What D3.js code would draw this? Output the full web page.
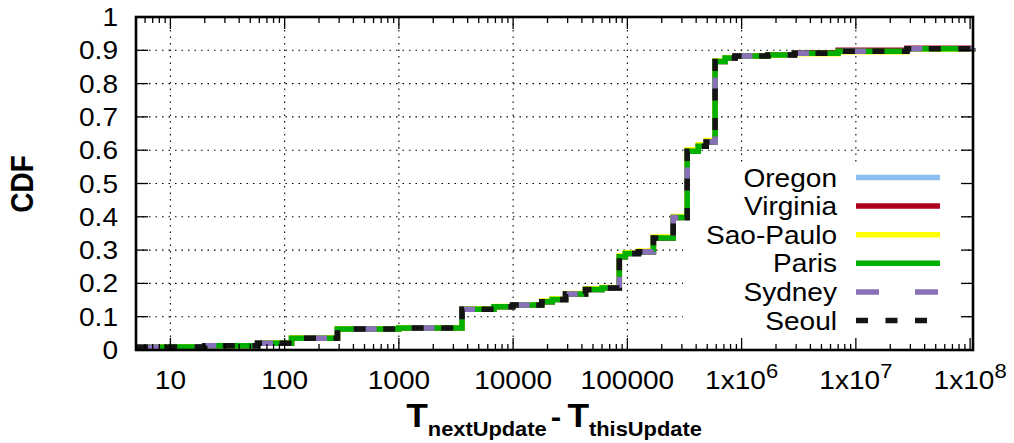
<!DOCTYPE html>
<html>
<head>
<meta charset="utf-8">
<script src="https://cdn.jsdelivr.net/npm/d3@7"></script>
<style>
  body { margin: 0; background: #fff; }
  text { font-family: "Liberation Sans", Arial, Helvetica, sans-serif; fill: #000; }
</style>
</head>
<body>
<svg id="chart" width="1014" height="443"></svg>
<script>
// x positions of the CDF steps (seconds)
const stepX = [5, 10, 20, 58, 115, 290, 1000, 3570, 6800, 9900, 17800, 22000, 28800, 43000, 60000,
  85000, 96000, 125000, 169000, 252000, 334000, 417000, 490000, 586000, 718000, 877000,
  1.7e6, 2.9e6, 7e6, 2.8e7, 1.06e8];

// CDF value after each step, one array per vantage point
const cdfOregon = [0.008, 0.009, 0.013, 0.02, 0.035, 0.063, 0.066, 0.122, 0.13, 0.135, 0.145, 0.152, 0.168, 0.182, 0.186,
  0.28, 0.29, 0.295, 0.336, 0.398, 0.597, 0.612, 0.625, 0.866, 0.877, 0.883,
  0.886, 0.891, 0.897, 0.905, 0.906];
const cdfVirginia = [0.008, 0.009, 0.013, 0.02, 0.035, 0.063, 0.066, 0.122, 0.13, 0.135, 0.145, 0.152, 0.168, 0.182, 0.186,
  0.28, 0.29, 0.295, 0.336, 0.398, 0.597, 0.612, 0.625, 0.866, 0.877, 0.883,
  0.887, 0.893, 0.9, 0.906, 0.907];
const cdfSaoPaulo = [0.008, 0.009, 0.013, 0.021, 0.036, 0.064, 0.067, 0.124, 0.131, 0.136, 0.147, 0.154, 0.17, 0.184, 0.188,
  0.283, 0.292, 0.297, 0.339, 0.401, 0.601, 0.616, 0.629, 0.868, 0.878, 0.883,
  0.885, 0.89, 0.896, 0.904, 0.905];
const cdfParis = [0.008, 0.009, 0.013, 0.02, 0.035, 0.063, 0.066, 0.122, 0.13, 0.135, 0.145, 0.152, 0.168, 0.182, 0.186,
  0.28, 0.29, 0.295, 0.336, 0.398, 0.597, 0.612, 0.625, 0.866, 0.877, 0.883,
  0.886, 0.891, 0.897, 0.905, 0.906];
const cdfSydney = [0.008, 0.009, 0.013, 0.02, 0.035, 0.063, 0.066, 0.122, 0.13, 0.135, 0.145, 0.152, 0.168, 0.182, 0.186,
  0.28, 0.29, 0.295, 0.336, 0.398, 0.597, 0.612, 0.625, 0.866, 0.877, 0.883,
  0.886, 0.891, 0.897, 0.905, 0.906];
const cdfSeoul = [0.008, 0.009, 0.013, 0.02, 0.035, 0.063, 0.066, 0.122, 0.13, 0.135, 0.145, 0.152, 0.168, 0.182, 0.186,
  0.28, 0.29, 0.295, 0.336, 0.398, 0.597, 0.612, 0.625, 0.866, 0.877, 0.883,
  0.886, 0.891, 0.897, 0.905, 0.906];

const seriesNames = ['Oregon', 'Virginia', 'Sao-Paulo', 'Paris', 'Sydney', 'Seoul'];
const seriesValues = [cdfOregon, cdfVirginia, cdfSaoPaulo, cdfParis, cdfSydney, cdfSeoul];

// tick values and labels ("^" marks a superscript)
const xTickValues = [10, 100, 1000, 10000, 100000, 1e6, 1e7, 1e8];
const xTickLabels = ['10', '100', '1000', '10000', '100000', '1x10^6', '1x10^7', '1x10^8'];
const yTickValues = [0, 0.1, 0.2, 0.3, 0.4, 0.5, 0.6, 0.7, 0.8, 0.9, 1];
const yTickLabels = ['0', '0.1', '0.2', '0.3', '0.4', '0.5', '0.6', '0.7', '0.8', '0.9', '1'];

// line styles
const seriesColors = ['#8fbff0', '#b0001e', '#ffff00', '#00b000', '#8a70b8', '#141414'];
const seriesDash = [null, null, null, null, '23,36', '12,17.5'];

const plot = { left: 136, right: 973, top: 17, bottom: 350 };
const STRETCH = 1.1; // glyphs in the reference are a bit wider than tall

const svg = d3.select('#chart');
svg.append('rect').attr('width', 1014).attr('height', 443).attr('fill', '#fff');

const x = d3.scaleLog().domain([5, 1.06e8]).range([plot.left, plot.right]);
const y = d3.scaleLinear().domain([0, 1]).range([plot.bottom, plot.top]);

// dotted grid
const grid = svg.append('g').attr('class', 'grid')
  .attr('stroke', '#000').attr('stroke-width', 1.1).attr('stroke-dasharray', '1.5,5');
grid.selectAll('.gx')
  .data(xTickValues.filter(v => v < 1e8))
  .enter().append('line')
    .attr('x1', d => x(d)).attr('x2', d => x(d))
    .attr('y1', plot.bottom).attr('y2', plot.top);
grid.selectAll('.gy')
  .data(yTickValues.filter(v => v > 0 && v < 1))
  .enter().append('line')
    .attr('x1', plot.left).attr('x2', plot.right)
    .attr('y1', d => y(d)).attr('y2', d => y(d));

// key background hides the grid behind it
svg.append('rect')
  .attr('x', 683).attr('y', 163)
  .attr('width', 280).attr('height', 184)
  .attr('fill', '#fff');

// curves
const line = d3.line()
  .x(d => x(d[0]))
  .y(d => y(d[1]))
  .curve(d3.curveStepAfter);

seriesValues.forEach((vals, i) => {
  svg.append('path')
    .datum(stepX.map((v, k) => [v, vals[k]]))
    .attr('fill', 'none')
    .attr('stroke', seriesColors[i])
    .attr('stroke-width', 5.5)
    .attr('stroke-dasharray', seriesDash[i])
    .attr('d', line);
});

// key
const key = svg.append('g').attr('class', 'key');
seriesNames.forEach((name, i) => {
  const ky = 177.5 + i * 28.6;
  key.append('text')
    .attr('transform', 'translate(837,' + (ky + 9) + ') scale(' + STRETCH + ',1)')
    .attr('text-anchor', 'end')
    .style('font-size', '25.5px')
    .text(name);
  key.append('line')
    .attr('x1', 856).attr('x2', 940)
    .attr('y1', ky).attr('y2', ky)
    .attr('stroke', seriesColors[i])
    .attr('stroke-width', 5.5)
    .attr('stroke-dasharray', seriesDash[i]);
});

// ticks (inward, mirrored on all sides)
const ticks = svg.append('g').attr('stroke', '#000').attr('stroke-width', 1.3);
const minorX = x.ticks().filter(v => !xTickValues.includes(v) && v > 5);
[[xTickValues, 12], [minorX, 6]].forEach(([vals, len]) => {
  vals.forEach(v => {
    ticks.append('line').attr('x1', x(v)).attr('x2', x(v)).attr('y1', plot.bottom).attr('y2', plot.bottom - len);
    ticks.append('line').attr('x1', x(v)).attr('x2', x(v)).attr('y1', plot.top).attr('y2', plot.top + len);
  });
});
yTickValues.forEach(v => {
  ticks.append('line').attr('x1', plot.left).attr('x2', plot.left + 12).attr('y1', y(v)).attr('y2', y(v));
  ticks.append('line').attr('x1', plot.right).attr('x2', plot.right - 12).attr('y1', y(v)).attr('y2', y(v));
});

// border
svg.append('rect')
  .attr('x', plot.left).attr('y', plot.top)
  .attr('width', plot.right - plot.left).attr('height', plot.bottom - plot.top)
  .attr('fill', 'none').attr('stroke', '#000').attr('stroke-width', 2.6);

// tick labels
xTickValues.forEach((v, i) => {
  const parts = xTickLabels[i].split('^');
  const t = svg.append('text')
    .attr('transform', 'translate(' + x(v) + ',389) scale(' + STRETCH + ',1)')
    .attr('text-anchor', 'middle')
    .style('font-size', '25.5px');
  t.append('tspan').text(parts[0]);
  if (parts[1]) t.append('tspan').attr('dy', -11).style('font-size', '20px').text(parts[1]);
});
yTickValues.forEach((v, i) => {
  svg.append('text')
    .attr('transform', 'translate(118,' + (y(v) + 9) + ') scale(' + STRETCH + ',1)')
    .attr('text-anchor', 'end')
    .style('font-size', '25.5px')
    .text(yTickLabels[i]);
});

// axis titles
svg.append('text')
  .attr('transform', 'translate(33,184) scale(' + STRETCH + ',1) rotate(-90)')
  .attr('text-anchor', 'middle')
  .style('font-size', '28px').style('font-weight', 'bold')
  .text('CDF');

const xt = svg.append('text')
  .attr('transform', 'translate(554,427) scale(1.04,1)')
  .attr('text-anchor', 'middle')
  .style('font-weight', 'bold');
xt.append('tspan').style('font-size', '34px').text('T');
xt.append('tspan').style('font-size', '21px').attr('dy', 9).text('nextUpdate');
xt.append('tspan').style('font-size', '30px').attr('dy', -9).attr('dx', 4).text('-');
xt.append('tspan').style('font-size', '34px').attr('dx', 6).text('T');
xt.append('tspan').style('font-size', '21px').attr('dy', 9).text('thisUpdate');
</script>
</body>
</html>
